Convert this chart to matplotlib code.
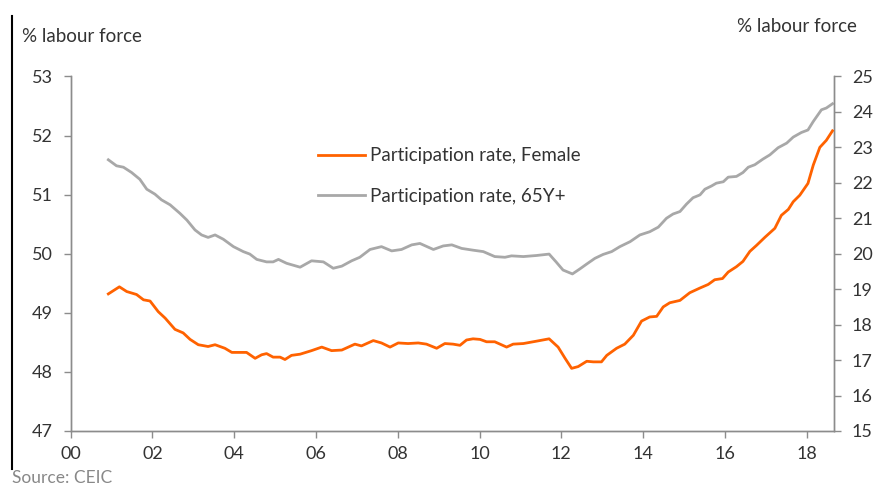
import matplotlib
matplotlib.use("Agg")
import matplotlib.pyplot as plt
from matplotlib.lines import Line2D

plt.rcParams['font.family'] = ['Lato', 'DejaVu Sans']

# Participation rate, Female (left axis, % labour force)
female_t = [2000.92, 2001.19, 2001.37, 2001.61, 2001.78, 2001.94, 2002.14, 2002.31, 2002.55, 2002.75,
            2002.92, 2003.12, 2003.36, 2003.53, 2003.77, 2003.94, 2004.30, 2004.51, 2004.67, 2004.79,
            2004.95, 2005.12, 2005.24, 2005.40, 2005.61, 2005.89, 2006.14, 2006.38, 2006.63, 2006.79,
            2006.95, 2007.11, 2007.40, 2007.60, 2007.81, 2008.01, 2008.25, 2008.50, 2008.70, 2008.95,
            2009.15, 2009.35, 2009.52, 2009.68, 2009.84, 2010.01, 2010.17, 2010.37, 2010.66, 2010.82,
            2011.07, 2011.39, 2011.70, 2011.92, 2012.09, 2012.25, 2012.41, 2012.62, 2012.78, 2012.98,
            2013.11, 2013.35, 2013.55, 2013.76, 2013.96, 2014.16, 2014.33, 2014.49, 2014.65, 2014.90,
            2015.14, 2015.39, 2015.59, 2015.75, 2015.94, 2016.08, 2016.28, 2016.44, 2016.61, 2016.77,
            2016.98, 2017.22, 2017.38, 2017.55, 2017.67, 2017.83, 2018.03, 2018.16, 2018.32, 2018.48,
            2018.63]
female = [49.32, 49.44, 49.36, 49.31, 49.22, 49.20, 49.02, 48.91, 48.72, 48.66,
          48.55, 48.46, 48.43, 48.46, 48.40, 48.33, 48.33, 48.23, 48.29, 48.31,
          48.25, 48.25, 48.21, 48.28, 48.30, 48.36, 48.42, 48.36, 48.37, 48.42,
          48.47, 48.44, 48.53, 48.49, 48.42, 48.49, 48.48, 48.49, 48.47, 48.40,
          48.48, 48.47, 48.45, 48.54, 48.56, 48.55, 48.51, 48.51, 48.42, 48.47,
          48.48, 48.52, 48.56, 48.42, 48.23, 48.06, 48.09, 48.18, 48.17, 48.17,
          48.28, 48.40, 48.47, 48.62, 48.86, 48.93, 48.94, 49.10, 49.17, 49.21,
          49.34, 49.42, 49.48, 49.56, 49.58, 49.69, 49.78, 49.87, 50.04, 50.14,
          50.28, 50.43, 50.65, 50.75, 50.88, 50.99, 51.19, 51.50, 51.80, 51.92,
          52.08]

# Participation rate, 65Y+ (right axis, % labour force)
older_t = [2000.92, 2001.12, 2001.29, 2001.49, 2001.69, 2001.86, 2002.06, 2002.22, 2002.43, 2002.67,
           2002.84, 2003.04, 2003.20, 2003.36, 2003.53, 2003.73, 2003.98, 2004.22, 2004.38, 2004.55,
           2004.79, 2004.95, 2005.08, 2005.28, 2005.61, 2005.89, 2006.18, 2006.42, 2006.63, 2006.87,
           2007.07, 2007.32, 2007.60, 2007.85, 2008.09, 2008.34, 2008.54, 2008.87, 2009.11, 2009.32,
           2009.56, 2009.84, 2010.09, 2010.37, 2010.62, 2010.78, 2011.07, 2011.39, 2011.70, 2011.87,
           2012.04, 2012.27, 2012.45, 2012.62, 2012.82, 2013.02, 2013.23, 2013.43, 2013.68, 2013.92,
           2014.16, 2014.37, 2014.57, 2014.73, 2014.90, 2015.06, 2015.22, 2015.39, 2015.51, 2015.67,
           2015.79, 2015.96, 2016.08, 2016.28, 2016.44, 2016.57, 2016.73, 2016.93, 2017.10, 2017.30,
           2017.51, 2017.67, 2017.87, 2018.03, 2018.16, 2018.36, 2018.48, 2018.63]
older = [22.65, 22.48, 22.44, 22.29, 22.10, 21.82, 21.68, 21.52, 21.38, 21.14,
         20.95, 20.67, 20.53, 20.46, 20.53, 20.41, 20.20, 20.06, 19.99, 19.84,
         19.77, 19.77, 19.84, 19.73, 19.62, 19.80, 19.77, 19.59, 19.65, 19.80,
         19.90, 20.12, 20.20, 20.08, 20.12, 20.25, 20.29, 20.12, 20.22, 20.25,
         20.15, 20.10, 20.06, 19.92, 19.90, 19.94, 19.92, 19.95, 19.99, 19.77,
         19.54, 19.43, 19.57, 19.71, 19.87, 19.98, 20.06, 20.20, 20.34, 20.53,
         20.62, 20.75, 21.00, 21.12, 21.19, 21.40, 21.58, 21.66, 21.82, 21.91,
         21.99, 22.03, 22.16, 22.18, 22.29, 22.44, 22.51, 22.67, 22.79, 22.99,
         23.12, 23.29, 23.42, 23.49, 23.73, 24.06, 24.11, 24.23]

year_ticks = list(range(2000, 2019, 2))
left_ticks = [47, 48, 49, 50, 51, 52, 53]
right_ticks = [15, 16, 17, 18, 19, 20, 21, 22, 23, 24, 25]

orange = '#FF6200'
grey = '#A8A8A8'
axis_col = '#8C8C8C'
text_col = '#333333'

fig = plt.figure(figsize=(8.73, 4.87), dpi=100)
ax = fig.add_axes([0.081, 0.115, 0.874, 0.728])
ax2 = ax.twinx()

l1, = ax.plot(female_t, female, color=orange, lw=2.0, solid_joinstyle='round',
              label='Participation rate, Female', zorder=3)
l2, = ax2.plot(older_t, older, color=grey, lw=2.0, solid_joinstyle='round',
               label='Participation rate, 65Y+')

ax.set_xlim(2000, 2018.66)
ax.set_ylim(47, 53)
ax2.set_ylim(15, 25)
ax.set_xticks(year_ticks)
ax.set_xticklabels([f"{y % 100:02d}" for y in year_ticks])
ax.set_yticks(left_ticks)
ax2.set_yticks(right_ticks)

for a in (ax, ax2):
    a.spines['top'].set_visible(False)
    for s in ('left', 'right', 'bottom'):
        a.spines[s].set_color(axis_col)
        a.spines[s].set_linewidth(1.0)
    a.tick_params(axis='both', colors=axis_col, labelcolor=text_col, labelsize=13,
                  length=5, width=1.0, direction='out')
ax.tick_params(axis='x', pad=6)
ax.tick_params(axis='y', pad=8)
ax2.tick_params(axis='y', pad=8)
ax.set_zorder(ax2.get_zorder() + 1)
ax.patch.set_visible(False)

fig.text(22 / 873, 1 - 37 / 487, '% labour force', fontsize=13.5, color=text_col,
         ha='left', va='center')
fig.text(857 / 873, 1 - 27 / 487, '% labour force', fontsize=13.5, color=text_col,
         ha='right', va='center')

fig.legend(handles=[l1, l2], loc='center left', bbox_to_anchor=(301 / 873, 1 - 176 / 487),
           frameon=False, fontsize=13.5, handlelength=2.5, handletextpad=0.3,
           labelspacing=1.26, labelcolor=text_col)

# source line sits at the very bottom edge
fig.text(12 / 873, 1 / 487, 'Source: CEIC', fontsize=12.5, color='#888888',
         ha='left', va='bottom')
fig.add_artist(Line2D([12 / 873, 12 / 873], [1 - 16 / 487, 1 - 469 / 487],
                      transform=fig.transFigure, color='black', lw=1.5))

fig.savefig('out.png', dpi=100)
